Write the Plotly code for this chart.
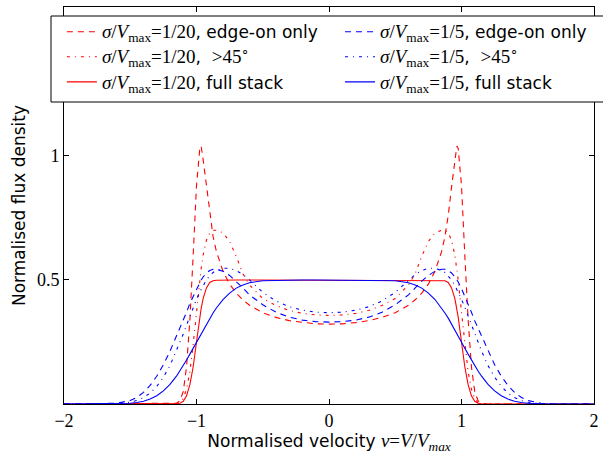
import plotly.graph_objects as go

# Normalised line profiles, tabulated for v >= 0 (the profiles are symmetric in v).
V_HALF = [0.0, 0.1, 0.2, 0.3, 0.4, 0.5, 0.6, 0.65, 0.7, 0.75, 0.8, 0.85, 0.875, 0.9,
          0.925, 0.95, 0.965, 0.975, 1.0, 1.025, 1.05, 1.075, 1.1, 1.125, 1.15, 1.2,
          1.25, 1.3, 1.35, 1.4, 1.45, 1.5, 1.6, 1.7, 2.0]

# sigma / V_max = 1/20
EDGE_20 = [0.322, 0.323, 0.328, 0.336, 0.349, 0.368, 0.398, 0.420, 0.447, 0.483, 0.535,
           0.615, 0.675, 0.760, 0.875, 0.985, 1.040, 1.030, 0.880, 0.600, 0.340, 0.150,
           0.050, 0.013, 0.003, 0.0, 0.0, 0.0, 0.0, 0.0, 0.0, 0.0, 0.0, 0.0, 0.0]
GT45_20 = [0.357, 0.359, 0.365, 0.377, 0.397, 0.425, 0.480, 0.525, 0.595, 0.655, 0.690,
           0.700, 0.700, 0.690, 0.660, 0.600, 0.545, 0.500, 0.370, 0.240, 0.130, 0.060,
           0.022, 0.006, 0.001, 0.0, 0.0, 0.0, 0.0, 0.0, 0.0, 0.0, 0.0, 0.0, 0.0]
FULL_20 = [0.5, 0.5, 0.5, 0.5, 0.5, 0.5, 0.5, 0.5, 0.5, 0.5, 0.5, 0.499, 0.497, 0.490,
           0.468, 0.425, 0.385, 0.350, 0.250, 0.150, 0.078, 0.033, 0.011, 0.003, 0.001,
           0.0, 0.0, 0.0, 0.0, 0.0, 0.0, 0.0, 0.0, 0.0, 0.0]

# sigma / V_max = 1/5
EDGE_5 = [0.330, 0.332, 0.338, 0.350, 0.370, 0.400, 0.440, 0.468, 0.495, 0.518, 0.535,
          0.543, 0.543, 0.538, 0.528, 0.512, 0.500, 0.492, 0.465, 0.435, 0.405, 0.370,
          0.335, 0.305, 0.275, 0.213, 0.158, 0.112, 0.075, 0.047, 0.027, 0.014, 0.003,
          0.0, 0.0]
GT45_5 = [0.368, 0.370, 0.378, 0.392, 0.415, 0.450, 0.500, 0.522, 0.538, 0.547, 0.547,
          0.538, 0.530, 0.517, 0.500, 0.478, 0.463, 0.452, 0.422, 0.390, 0.355, 0.318,
          0.282, 0.248, 0.215, 0.155, 0.108, 0.071, 0.044, 0.026, 0.014, 0.007, 0.001,
          0.0, 0.0]
FULL_5 = [0.5, 0.5, 0.5, 0.5, 0.499, 0.497, 0.489, 0.480, 0.467, 0.447, 0.421, 0.387,
          0.367, 0.346, 0.323, 0.299, 0.285, 0.275, 0.250, 0.225, 0.201, 0.177, 0.154,
          0.133, 0.113, 0.079, 0.053, 0.033, 0.020, 0.011, 0.006, 0.003, 0.001, 0.0, 0.0]

X_TICKS = [-2, -1, 0, 1, 2]
Y_TICKS = [0.5, 1]
Y_TICK_TEXT = ["0.5", "1"]

RED = "#ff0000"
BLUE = "#0000ff"
DASHED = "6px,5px"
DASHDOT = "3px,5px,1px,5px"
SERIF = "Liberation Serif"
SANS = "DejaVu Sans"


def both_sides(half):
    """Full profile over -2..2 from the tabulated half."""
    return [h for h in reversed(half[1:])] + list(half)


v_full = [-x for x in reversed(V_HALF[1:])] + V_HALF


def sig_label(ratio, suffix):
    return (f'<span style="font-family:{SERIF};font-size:19px"><i>σ</i>/<i>V</i>'
            f'<sub>max</sub>={ratio}</span>{suffix}')


gt45 = (f',&nbsp;&nbsp;<span style="font-family:{SERIF};font-size:19px">'
        f'&gt;45<sup>∘</sup></span>')

series = [
    (EDGE_20, RED, DASHED, sig_label("1/20", ", edge-on only"), "legend"),
    (GT45_20, RED, DASHDOT, sig_label("1/20", gt45), "legend"),
    (FULL_20, RED, "solid", sig_label("1/20", ", full stack"), "legend"),
    (EDGE_5, BLUE, DASHED, sig_label("1/5", ", edge-on only"), "legend2"),
    (GT45_5, BLUE, DASHDOT, sig_label("1/5", gt45), "legend2"),
    (FULL_5, BLUE, "solid", sig_label("1/5", ", full stack"), "legend2"),
]

fig = go.Figure()
for vals, color, dash, name, leg in series:
    fig.add_trace(go.Scatter(
        x=v_full, y=both_sides(vals), mode="lines", name=name, legend=leg,
        line=dict(color=color, width=1.1, dash=dash),
    ))

axis_common = dict(
    showline=True, linecolor="black", linewidth=1, mirror="allticks",
    ticks="inside", ticklen=5, tickwidth=1, tickcolor="black",
    showgrid=False, zeroline=False,
    tickfont=dict(family=SERIF, size=18, color="black"),
)

fig.update_layout(
    width=603, height=454,
    template="none",
    paper_bgcolor="white", plot_bgcolor="white",
    margin=dict(l=64, r=9, t=7, b=50, autoexpand=False),
    xaxis=dict(
        range=[-2, 2], tickvals=X_TICKS,
        title=dict(
            text=(f'Normalised velocity <span style="font-family:{SERIF};font-size:19px">'
                  f'<i>v</i>=<i>V</i>/<i>V<sub>max</sub></i></span>'),
            font=dict(family=SANS, size=17, color="black"), standoff=6),
        **axis_common),
    yaxis=dict(
        range=[0, 1.6], tickvals=Y_TICKS, ticktext=Y_TICK_TEXT,
        title=dict(text="Normalised flux density",
                   font=dict(family=SANS, size=17, color="black"), standoff=6),
        **axis_common),
    legend=dict(
        x=-0.004, y=0.982, xanchor="left", yanchor="top",
        bgcolor="rgba(0,0,0,0)", borderwidth=0,
        font=dict(family=SANS, size=17, color="black"),
        orientation="v", traceorder="normal",
    ),
    legend2=dict(
        x=0.5208, y=0.982, xanchor="left", yanchor="top",
        bgcolor="rgba(0,0,0,0)", borderwidth=0,
        font=dict(family=SANS, size=17, color="black"),
        orientation="v", traceorder="normal",
    ),
    shapes=[dict(
        type="rect", xref="paper", yref="paper",
        x0=-0.0245, x1=1.1, y0=0.7607, y1=0.9773,
        line=dict(color="black", width=1), fillcolor="white", layer="above",
    )],
)

fig.write_html("out.html")
